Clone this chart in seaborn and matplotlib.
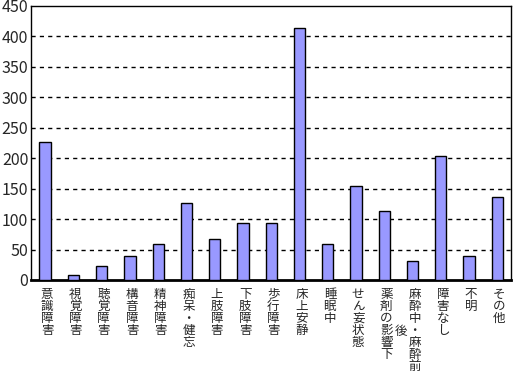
#-------------------------------------------------------------------------------
# plot.py
# Bar chart of counts per condition category (Japanese labels, vertical text)
#-------------------------------------------------------------------------------

import pandas as pd
import matplotlib
matplotlib.use("Agg")
import matplotlib.pyplot as plt
import seaborn as sns
import numpy as np

# --------------------------------------
# Data
# --------------------------------------
categories = ["意識障害", "視覚障害", "聴覚障害", "構音障害", "精神障害",
              "痴呆・健忘", "上肢障害", "下肢障害", "歩行障害", "床上安静",
              "睡眠中", "せん妄状態", "薬剤の影響下", "麻酔中・麻酔前後",
              "障害なし", "不明", "その他"]
counts = [226, 8, 23, 39, 59, 126, 68, 93, 93, 414,
          59, 155, 114, 31, 203, 39, 137]
y_ticks = [0, 50, 100, 150, 200, 250, 300, 350, 400, 450]

df = pd.DataFrame({"category": categories, "count": counts})

# --------------------------------------
# Style
# --------------------------------------
sns.set_style("white")
plt.rcParams["font.family"] = ["Noto Sans CJK JP", "DejaVu Sans"]

fig = plt.figure(figsize=(5.13, 3.77), dpi=100)
ax = fig.add_axes([31 / 513, 97 / 377, 480.5 / 513, 274 / 377])

sns.barplot(data=df, x="category", y="count", color="#9999FF", saturation=1,
            width=0.4, edgecolor="black", linewidth=1.0, ax=ax, zorder=3)

# axes / grid
ax.set_ylim(0, 450)
ax.set_xlim(-0.5, len(categories) - 0.5)
ax.set_yticks(y_ticks)
ax.set_yticklabels([str(v) for v in y_ticks], fontsize=11.5)
for v in y_ticks[1:-1]:
    ax.axhline(v, color="black", lw=1, linestyle=(0, (3, 3)), zorder=1)

ax.set_xlabel("")
ax.set_ylabel("")
ax.set_xticks(range(len(categories)))
ax.set_xticklabels([])
ax.set_xticks(np.arange(0.5, len(categories) - 1), minor=True)
ax.tick_params(axis="x", which="major", length=0)
ax.tick_params(axis="x", which="minor", direction="in", length=4, width=1, color="black")
ax.tick_params(axis="y", direction="in", length=4, width=1, color="black", pad=2)

for side in ["top", "right", "left"]:
    ax.spines[side].set_color("black")
    ax.spines[side].set_linewidth(1)
ax.spines["bottom"].set_color("black")
ax.spines["bottom"].set_linewidth(2)

# vertical category labels (wrap into columns of 7 chars, right to left)
row_pt = 9.0
max_rows = 7
for i, lab in enumerate(categories):
    col1 = lab[:max_rows]
    ax.annotate("\n".join(col1), xy=(i, 0), xycoords=("data", "axes fraction"),
                xytext=(1.5, -5.5), textcoords="offset points",
                ha="center", va="top", fontsize=9, linespacing=0.9)
    rest = lab[max_rows:]
    if rest:
        mid = -(5.5 + len(col1) * row_pt / 2)
        ax.annotate("\n".join(rest), xy=(i, 0), xycoords=("data", "axes fraction"),
                    xytext=(1.5 - 9.6, mid), textcoords="offset points",
                    ha="center", va="center", fontsize=9, linespacing=0.9)

fig.savefig("out.png", dpi=100)
